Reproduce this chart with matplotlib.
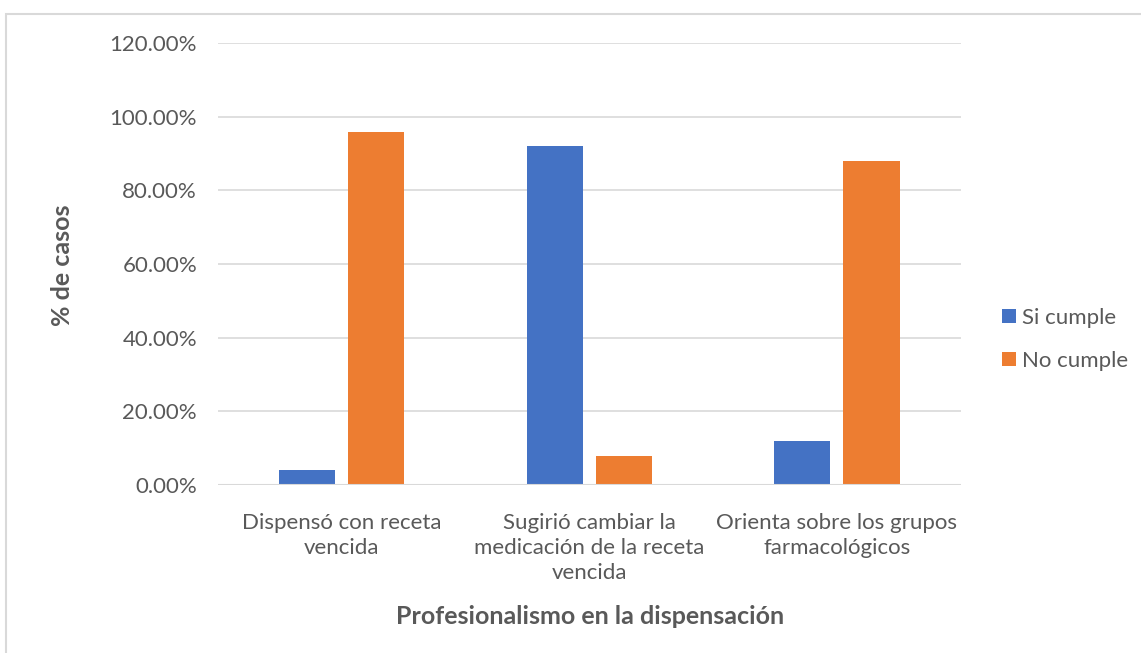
import matplotlib.pyplot as plt
import numpy as np
from matplotlib.patches import Rectangle

## data
categorias = ['Dispensó con receta\nvencida',
              'Sugirió cambiar la\nmedicación de la receta\nvencida',
              'Orienta sobre los grupos\nfarmacológicos']
si_cumple = [0.04, 0.92, 0.12]
no_cumple = [0.96, 0.08, 0.88]
yticks = [0, 0.2, 0.4, 0.6, 0.8, 1.0, 1.2]

plt.rcParams['font.family'] = ['Lato', 'DejaVu Sans']
gris = '#595959'

fig = plt.figure(figsize=(11.41, 6.53), dpi=100)
ax = fig.add_axes([0.191, 0.257, 0.651, 0.677])

x = np.arange(len(categorias))
w = 0.227
off = 0.14
ax.bar(x - off, si_cumple, w, color='#4472C4', label='Si cumple', zorder=3)
ax.bar(x + off, no_cumple, w, color='#ED7D31', label='No cumple', zorder=3)

ax.set_xlim(-0.5, 2.5)
ax.set_ylim(0, 1.2)
ax.set_yticks(yticks)
ax.set_yticklabels(['%.2f%%' % (v * 100) for v in yticks], color=gris, fontsize=16)
ax.set_xticks(x)
ax.set_xticklabels(categorias, color=gris, fontsize=16, linespacing=1.32)
ax.tick_params(length=0)
ax.tick_params(axis='y', pad=15)
ax.tick_params(axis='x', pad=20)
ax.grid(axis='y', color='#D9D9D9', linewidth=1.2, zorder=0)
for s in ax.spines.values():
    s.set_visible(False)
ax.axhline(0, color='#D9D9D9', linewidth=1.5, zorder=4)

fig.text(62 / 1141, 1 - 265 / 653, '% de casos', fontsize=18, fontweight='bold',
         color=gris, ha='center', va='center', rotation=90)
fig.text(590 / 1141, 1 - 616 / 653, 'Profesionalismo en la dispensación', fontsize=18,
         fontweight='bold', color=gris, ha='center', va='center')

fig.legend(loc='center left', bbox_to_anchor=(0.861, 0.48), frameon=False,
           fontsize=16, labelcolor=gris, handlelength=0.6, handleheight=0.6,
           handletextpad=0.3, labelspacing=1.05)

# chart border
fig.patches.append(Rectangle((6 / 1141, -0.1), 1.2, 1 - 13.5 / 653 + 0.1,
                             transform=fig.transFigure, fill=False,
                             edgecolor='#D9D9D9', linewidth=1.5))

fig.savefig('out.png', dpi=100)
